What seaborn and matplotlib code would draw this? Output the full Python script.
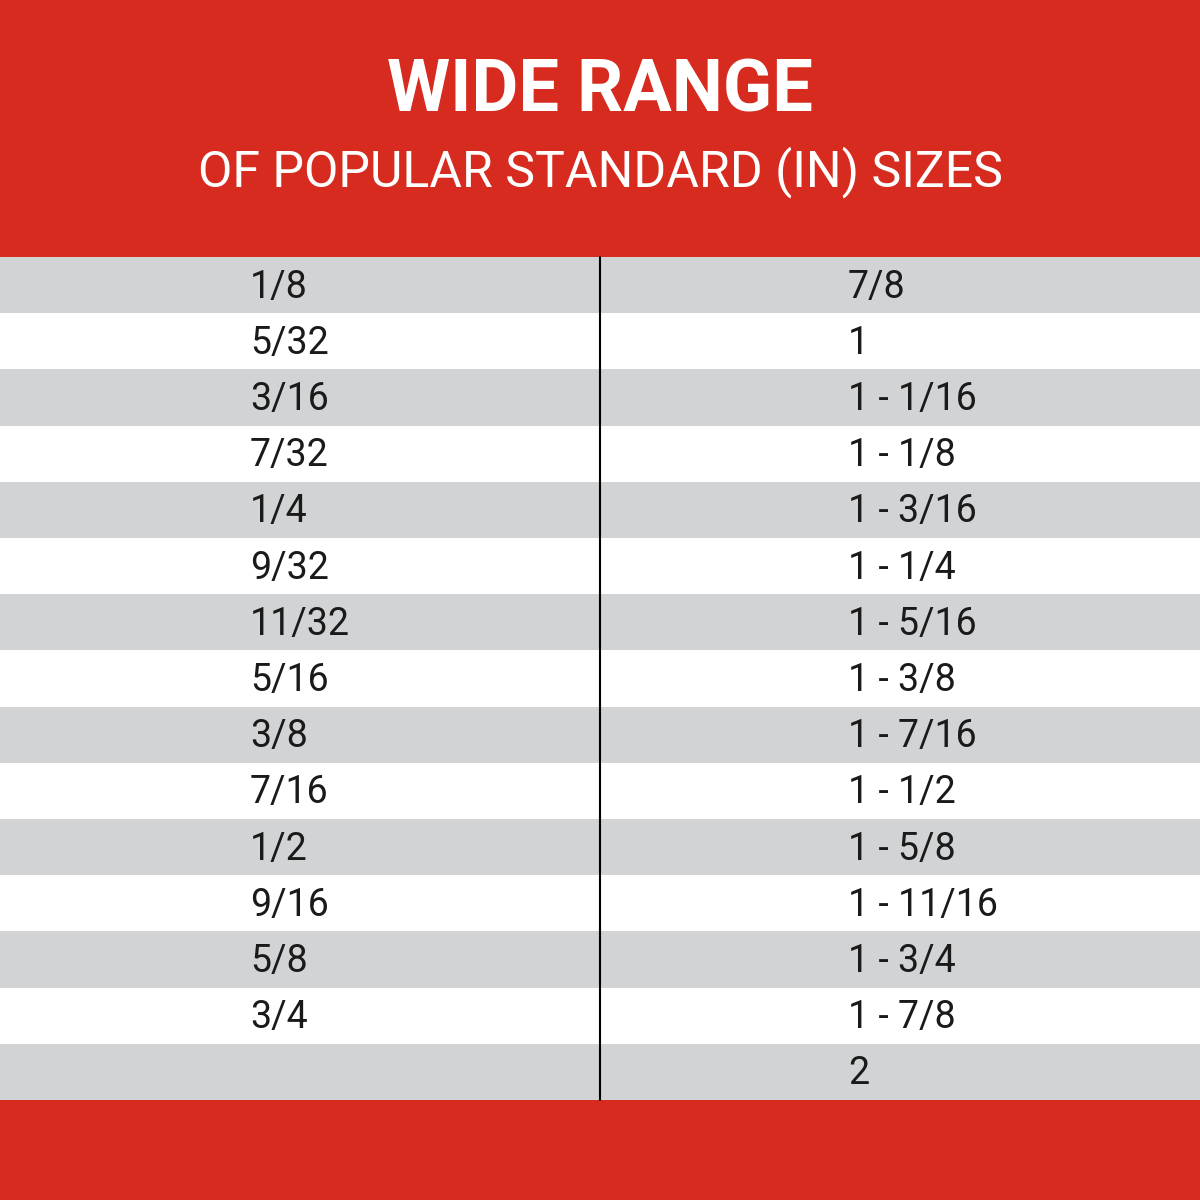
import matplotlib
matplotlib.use("Agg")
import matplotlib.pyplot as plt
import seaborn as sns
import numpy as np

sns.set_theme(style="white")
plt.rcParams['font.family'] = ['Roboto', 'DejaVu Sans']

title = "WIDE RANGE"
subtitle = "OF POPULAR STANDARD (IN) SIZES"
left_sizes = ["1/8", "5/32", "3/16", "7/32", "1/4", "9/32", "11/32", "5/16",
              "3/8", "7/16", "1/2", "9/16", "5/8", "3/4", ""]
right_sizes = ["7/8", "1", "1 - 1/16", "1 - 1/8", "1 - 3/16", "1 - 1/4", "1 - 5/16",
               "1 - 3/8", "1 - 7/16", "1 - 1/2", "1 - 5/8", "1 - 11/16", "1 - 3/4",
               "1 - 7/8", "2"]

RED = "#D62B1E"
GRAY = "#D1D3D5"

fig = plt.figure(figsize=(12, 12), dpi=100)
ax = fig.add_axes([0, 0, 1, 1])
ax.set_xlim(0, 1200)
ax.set_ylim(1200, 0)
ax.axis("off")

top, bottom = 257, 1100
n = len(left_sizes)
h = (bottom - top) / n
centers = top + h * (np.arange(n) + 0.5)
colors = [GRAY if i % 2 == 0 else "white" for i in range(n)]
ax.barh(centers, [1200] * n, height=h, left=0, color=colors, linewidth=0)
ax.barh([top / 2], [1200], height=top, left=0, color=RED, linewidth=0)
ax.barh([(bottom + 1200) / 2], [1200], height=1200 - bottom, left=0, color=RED, linewidth=0)
ax.plot([600, 600], [top, bottom], color="black", lw=1.5)

ax.text(600, 92, title, color="white", fontsize=52, fontweight="bold",
        ha="center", va="center")
ax.text(600, 172, subtitle, color="white", fontsize=36, ha="center", va="center")

for y, l, r in zip(centers, left_sizes, right_sizes):
    ax.text(250, y + 2, l, fontsize=27, color="#1a1a1a", ha="left", va="center")
    ax.text(848, y + 2, r, fontsize=27, color="#1a1a1a", ha="left", va="center")

fig.savefig("out.png", dpi=100)
